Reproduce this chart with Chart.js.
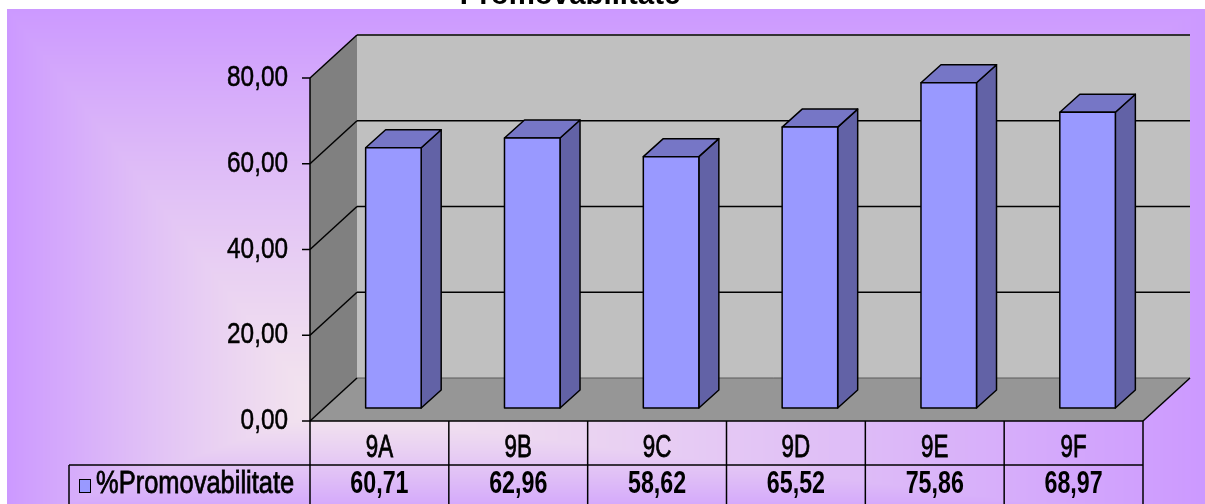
<!DOCTYPE html>
<html>
<head>
<meta charset="utf-8">
<style>
  html, body { margin: 0; padding: 0; background: #ffffff; }
  canvas { display: block; }
</style>
<script src="https://cdn.jsdelivr.net/npm/chart.js@4.4.1/dist/chart.umd.min.js"></script>
</head>
<body>
<canvas id="chart" width="1205" height="504"></canvas>
<script>
// Chart data
const categories = ['9A', '9B', '9C', '9D', '9E', '9F'];
const promovabilitate = [60.71, 62.96, 58.62, 65.52, 75.86, 68.97];
const seriesName = '%Promovabilitate';
const chartTitle = 'Promovabilitate';
const yMin = 0;
const yMax = 80;
const yStep = 20;

const FONT = "'Liberation Sans', Arial, sans-serif";
const DEPTH = { x: 47, y: -43 };       // back wall offset
const BAR_FRONT = { x: 14, y: -13 };   // bar front face offset
const BAR_DEPTH = { x: 20, y: -18 };   // bar thickness

function fmt(v) {
    return v.toFixed(2).replace('.', ',');
}

// draw text squeezed horizontally / stretched vertically (narrow font look)
function narrowText(ctx, txt, x, y, font, sx, sy, align, thicken) {
    ctx.save();
    ctx.font = font;
    ctx.translate(x, y);
    ctx.scale(sx, sy);
    ctx.textAlign = align;
    ctx.textBaseline = 'middle';
    ctx.fillStyle = '#000000';
    ctx.fillText(txt, 0, 0);
    if (thicken) {
        ctx.strokeStyle = '#000000';
        ctx.lineWidth = thicken;
        ctx.strokeText(txt, 0, 0);
    }
    ctx.restore();
}

function poly(ctx, pts, fill, stroke, lw) {
    ctx.beginPath();
    ctx.moveTo(pts[0][0], pts[0][1]);
    for (let i = 1; i < pts.length; i++) ctx.lineTo(pts[i][0], pts[i][1]);
    ctx.closePath();
    if (fill) { ctx.fillStyle = fill; ctx.fill(); }
    if (stroke) { ctx.strokeStyle = stroke; ctx.lineWidth = lw || 1.5; ctx.stroke(); }
}

function line(ctx, x1, y1, x2, y2, color, lw) {
    ctx.beginPath();
    ctx.moveTo(x1, y1);
    ctx.lineTo(x2, y2);
    ctx.strokeStyle = color;
    ctx.lineWidth = lw || 1.5;
    ctx.stroke();
}

const excel3d = {
    id: 'excel3d',
    beforeDraw(chart) {
        const ctx = chart.ctx;
        const W = chart.width, H = chart.height;
        ctx.save();
        ctx.fillStyle = '#ffffff';
        ctx.fillRect(0, 0, W, H);
        // rectangular "from center" gradient like the Excel fill
        const x0 = 7, y0 = 9, x1 = W, y1 = 525;
        const cx = 320, cy = 410;
        const c0 = [243, 228, 238], c1 = [204, 153, 255];
        const img = ctx.createImageData(W - x0, H - y0);
        let k = 0;
        for (let y = y0; y < H; y++) {
            const ty = y < cy ? (cy - y) / (cy - y0) : (y - cy) / (y1 - cy);
            for (let x = x0; x < W; x++) {
                const tx = x < cx ? (cx - x) / (cx - x0) : (x - cx) / (x1 - cx);
                let t = Math.min(1, Math.max(tx, ty));
                t = Math.pow(t, 1.25);
                img.data[k++] = c0[0] + (c1[0] - c0[0]) * t;
                img.data[k++] = c0[1] + (c1[1] - c0[1]) * t;
                img.data[k++] = c0[2] + (c1[2] - c0[2]) * t;
                img.data[k++] = 255;
            }
        }
        ctx.putImageData(img, x0, y0);
        ctx.restore();
    },
    beforeDatasetsDraw(chart) {
        const ctx = chart.ctx;
        const a = chart.chartArea;
        const ys = chart.scales.y;
        const dx = DEPTH.x, dy = DEPTH.y;
        ctx.save();
        // back wall
        poly(ctx, [[a.left + dx, a.top + dy], [a.right + dx, a.top + dy],
                   [a.right + dx, a.bottom + dy], [a.left + dx, a.bottom + dy]], '#c0c0c0');
        // side wall
        poly(ctx, [[a.left, a.top], [a.left + dx, a.top + dy],
                   [a.left + dx, a.bottom + dy], [a.left, a.bottom]], '#808080');
        // floor
        poly(ctx, [[a.left, a.bottom], [a.right, a.bottom],
                   [a.right + dx, a.bottom + dy], [a.left + dx, a.bottom + dy]], '#969696');
        line(ctx, a.left + dx, a.bottom + dy, a.right + dx, a.bottom + dy, '#5a5a5a', 1);
        line(ctx, a.right, a.bottom, a.right + dx, a.bottom + dy, '#000000', 1.5);
        // top edge of back wall
        line(ctx, a.left + dx, a.top + dy, a.right + dx, a.top + dy, '#333333', 2);

        // gridlines and ticks
        ys.ticks.forEach(t => {
            const py = ys.getPixelForValue(t.value);
            line(ctx, a.left, py, a.left + dx, py + dy, '#000000', 1.5);
            if (t.value > yMin && t.value < yMax) {
                line(ctx, a.left + dx, py + dy, a.right + dx, py + dy, '#000000', 1.5);
            }
            line(ctx, a.left - 8, py, a.left, py, '#000000', 1.5);
            narrowText(ctx, fmt(t.value), a.left - 22, py, '28px ' + FONT, 0.87, 1.06, 'right', 0.5);
        });
        line(ctx, a.left, a.top, a.left, a.bottom, '#000000', 1.5);
        ctx.restore();
    },
    afterDatasetsDraw(chart) {
        const ctx = chart.ctx;
        const meta = chart.getDatasetMeta(0);
        ctx.save();
        ctx.lineJoin = 'round';
        meta.data.forEach(bar => {
            const p = bar.getProps(['x', 'y', 'base', 'width'], true);
            const l = p.x - p.width / 2 + BAR_FRONT.x;
            const r = p.x + p.width / 2 + BAR_FRONT.x;
            const top = p.y + BAR_FRONT.y;
            const bot = p.base + BAR_FRONT.y;
            const bx = BAR_DEPTH.x, by = BAR_DEPTH.y;
            // side
            poly(ctx, [[r, top], [r + bx, top + by], [r + bx, bot + by], [r, bot]], '#6262a6', '#000000', 1.5);
            // top
            poly(ctx, [[l, top], [l + bx, top + by], [r + bx, top + by], [r, top]], '#7676c6', '#000000', 1.5);
            // front
            poly(ctx, [[l, top], [r, top], [r, bot], [l, bot]], '#9999ff', '#000000', 1.5);
        });
        ctx.restore();
    },
    afterDraw(chart) {
        const ctx = chart.ctx;
        const a = chart.chartArea;
        const xs = chart.scales.x;
        const colW = (a.right - a.left) / categories.length;
        const row1 = a.bottom, row2 = a.bottom + 44, rowEnd = chart.height + 10;
        const legendLeft = 69;
        ctx.save();
        // table grid
        line(ctx, a.left, row1, a.right, row1, '#000000', 1.5);
        line(ctx, legendLeft, row2, a.right, row2, '#000000', 1.5);
        line(ctx, legendLeft, row2, legendLeft, rowEnd, '#000000', 1.5);
        for (let i = 0; i <= categories.length; i++) {
            const x = a.left + i * colW;
            line(ctx, x, row1, x, rowEnd, '#000000', 1.5);
        }
        // category labels and values
        categories.forEach((c, i) => {
            const x = xs.getPixelForValue(i);
            narrowText(ctx, c, x, row1 + 27, '28px ' + FONT, 0.8, 1.12, 'center', 0.7);
            narrowText(ctx, fmt(promovabilitate[i]), x, row2 + 20, 'bold 28px ' + FONT, 0.83, 1.1, 'center');
        });
        // legend key
        ctx.fillStyle = '#9999ff';
        ctx.fillRect(79, row2 + 14, 11, 13);
        ctx.strokeStyle = '#000000';
        ctx.lineWidth = 1;
        ctx.strokeRect(79.5, row2 + 14.5, 11, 13);
        narrowText(ctx, seriesName, 96, row2 + 20, '28px ' + FONT, 0.91, 1.1, 'left', 0.7);
        // title (mostly cut off at the top)
        ctx.font = 'bold 30px ' + FONT;
        ctx.textAlign = 'center';
        ctx.textBaseline = 'alphabetic';
        ctx.fillStyle = '#000000';
        ctx.save();
        ctx.translate(570, 4);
        ctx.scale(0.98, 1);
        ctx.fillText(chartTitle, 0, 0);
        ctx.restore();
        ctx.restore();
    }
};

new Chart(document.getElementById('chart').getContext('2d'), {
    type: 'bar',
    data: {
        labels: categories,
        datasets: [{
            label: seriesName,
            data: promovabilitate,
            backgroundColor: 'rgba(0,0,0,0)',
            borderWidth: 0,
            barPercentage: 0.4,
            categoryPercentage: 1
        }]
    },
    options: {
        responsive: false,
        animation: false,
        devicePixelRatio: 1,
        layout: { padding: { left: 310, right: 62, top: 78, bottom: 83 } },
        plugins: {
            legend: { display: false },
            title: { display: false },
            tooltip: { enabled: false }
        },
        scales: {
            x: { display: false },
            y: { display: false, min: yMin, max: yMax, ticks: { stepSize: yStep } }
        }
    },
    plugins: [excel3d]
});
</script>
</body>
</html>
